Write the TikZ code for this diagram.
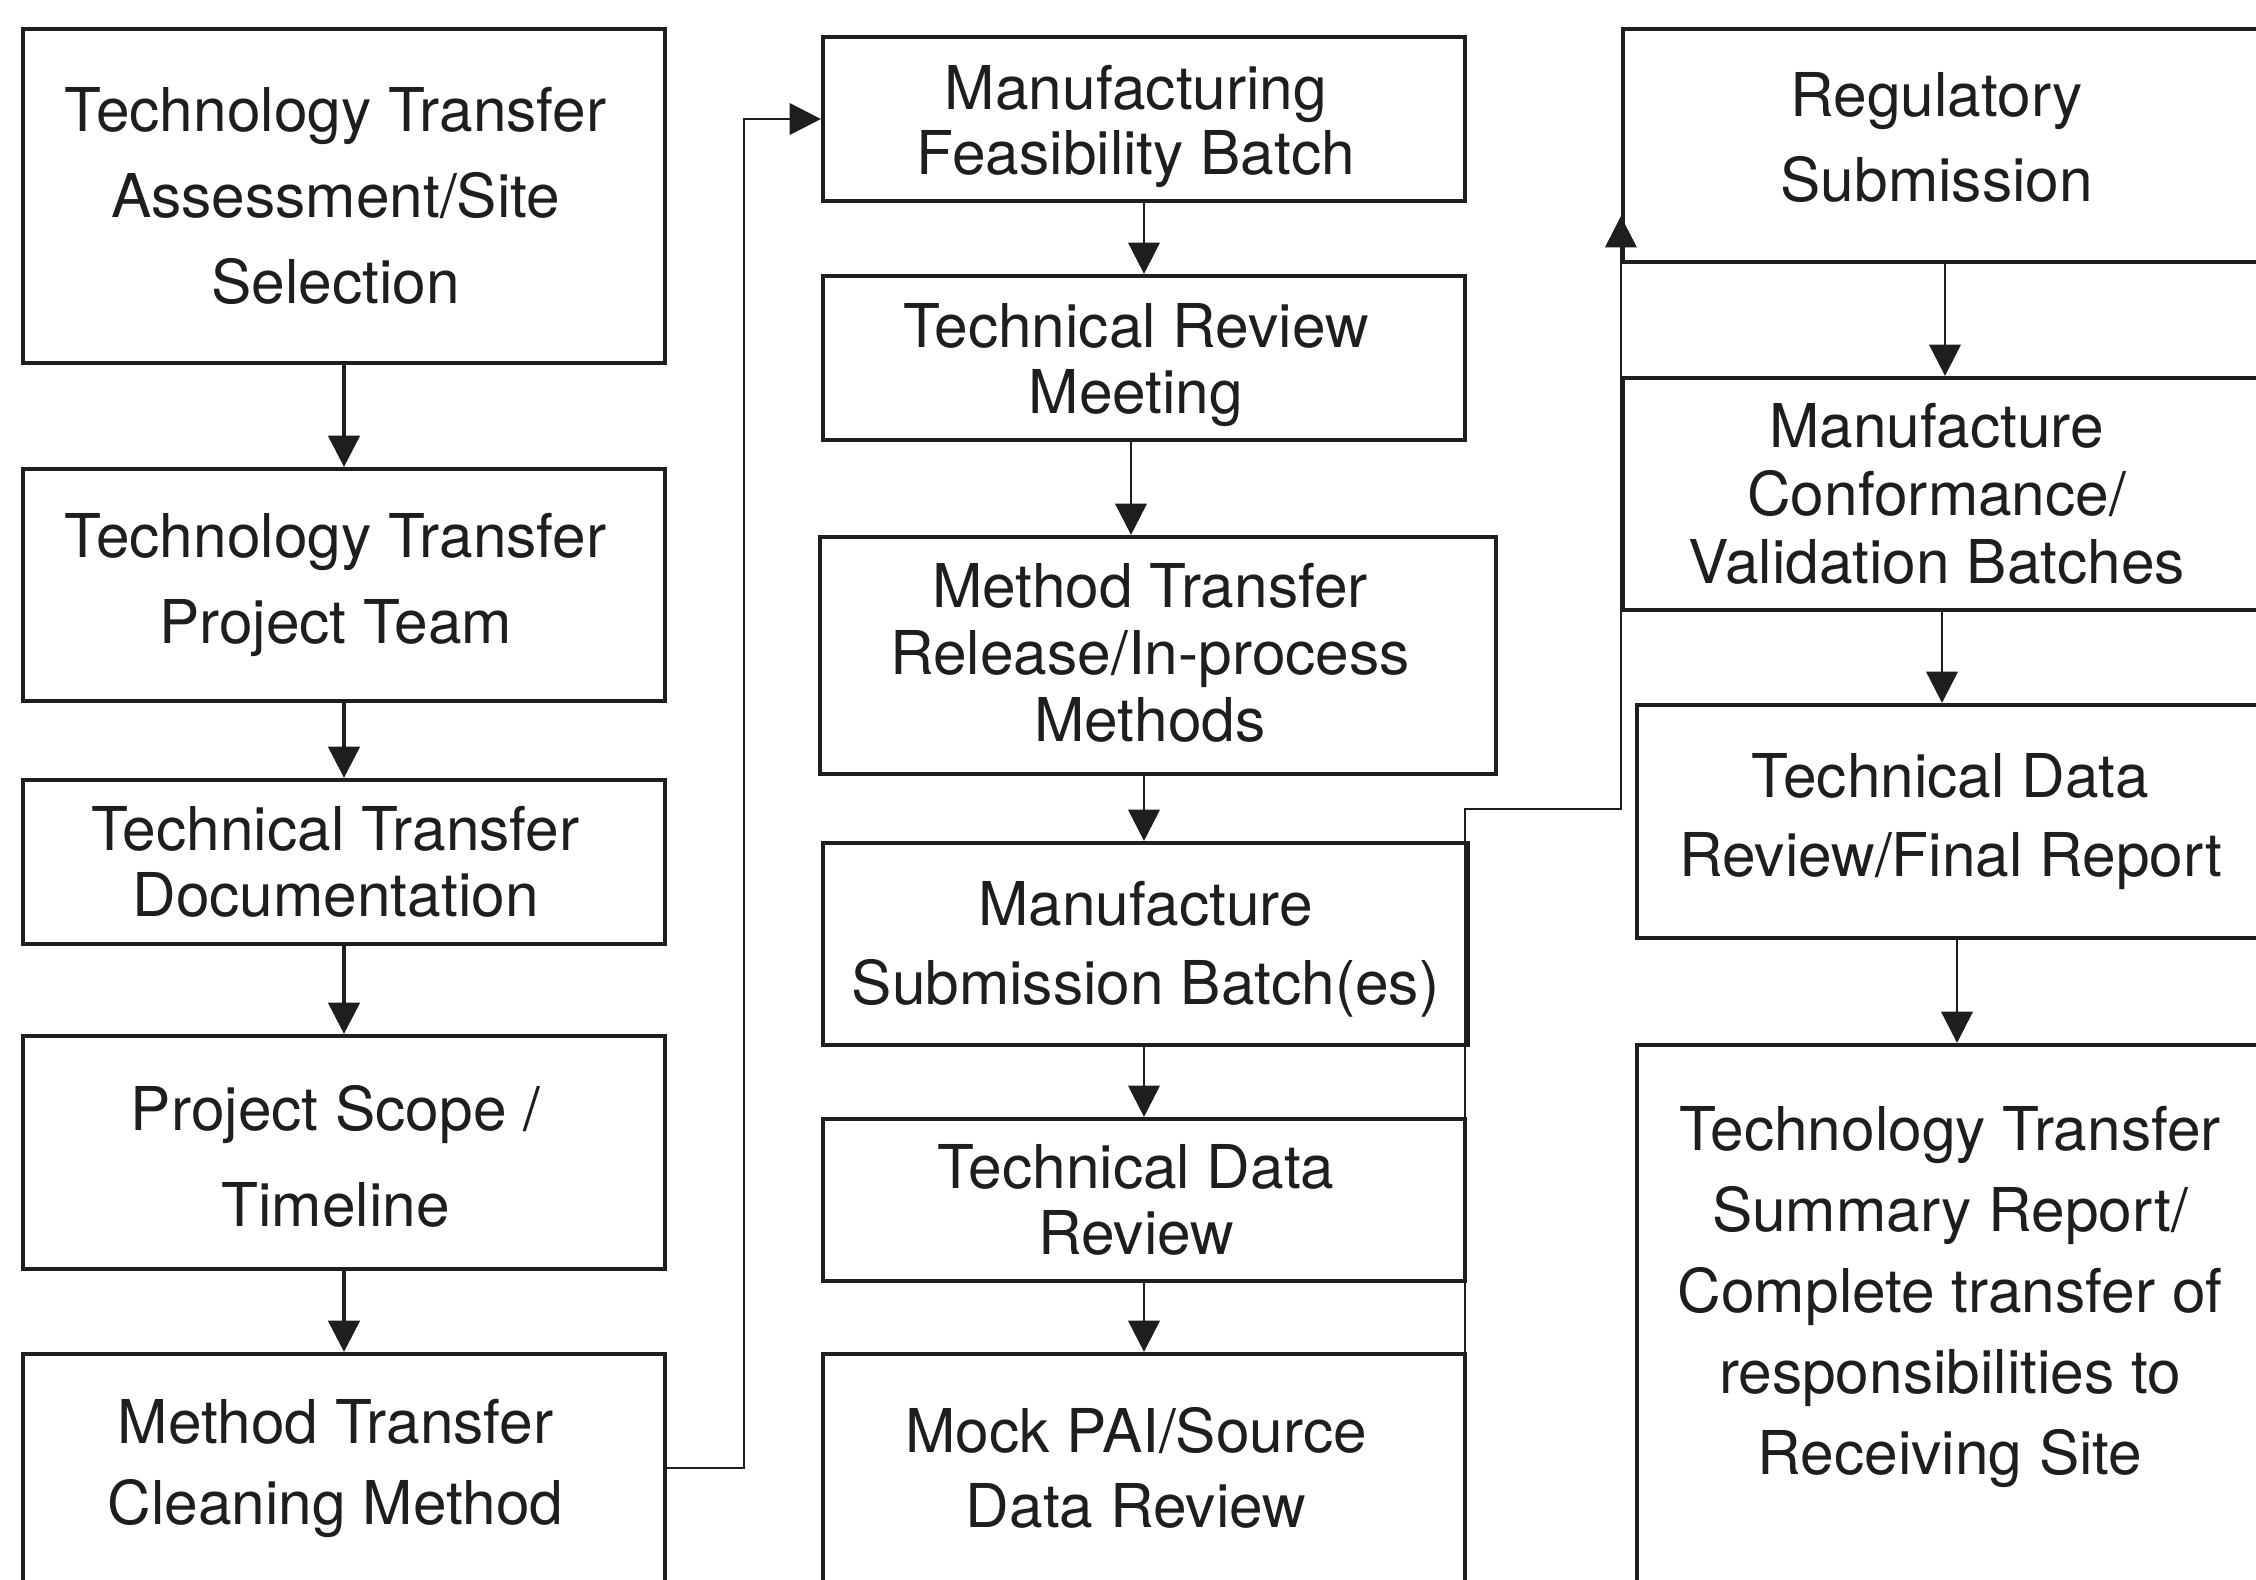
\documentclass[tikz,border=0pt]{standalone}
\usepackage{fontspec}
\setmainfont{TeX Gyre Heros}
\usetikzlibrary{arrows.meta,calc}
\definecolor{ink}{HTML}{1E1E1E}
\begin{document}
\begin{tikzpicture}[x=0.25pt,y=-0.25pt,
  box/.style={draw=ink, line width=1.05pt, inner sep=0pt},
  size/.style 2 args={minimum width=#1*0.25pt, minimum height=#2*0.25pt},
  boxtext/.style={inner sep=0pt, align=center, text=ink, anchor=center,
              font=\fontsize{15.1pt}{#1}\selectfont},
  link/.style={draw=ink, line width=0.7pt, -{Triangle[length=7.8pt,width=7.8pt]}},
  heavy/.style={line width=0.95pt}]

% page frame
\useasboundingbox (0,0) rectangle (2256,1579);
\fill[white] (0,0) rectangle (2256,1579);
\clip (0,0) rectangle (2256,1579);

% left column
\node[box, size={642}{334},
  label={[boxtext=21.5pt, xshift=-2.1pt]center:{Technology Transfer\\Assessment/Site\\Selection}}]
  (t1) at (344,196) {};
\node[box, size={642}{232},
  label={[boxtext=21.5pt, xshift=-2.1pt]center:{Technology Transfer\\Project Team}}]
  (t2) at (344,585) {};
\node[box, size={642}{164},
  label={[boxtext=16.5pt, xshift=-2.1pt]center:{Technical Transfer\\Documentation}}]
  (t3) at (344,862) {};
\node[box, size={642}{233},
  label={[boxtext=24pt, xshift=-2.1pt, yshift=-1pt]center:{Project Scope /\\Timeline}}]
  (t4) at (344,1152.5) {};
\node[box, size={642}{228},
  label={[boxtext=20.25pt, xshift=-2.1pt]center:{Method Transfer\\Cleaning Method}}]
  (t5) at (344,1468) {};

% middle column
\node[box, size={642}{164},
  label={[boxtext=16.25pt, xshift=-2pt, yshift=-1.8pt]center:{Manufacturing\\Feasibility Batch}}]
  (m1) at (1144,119) {};
\node[box, size={642}{164},
  label={[boxtext=16.5pt, xshift=-2pt, yshift=-1.8pt]center:{Technical Review\\Meeting}}]
  (m2) at (1144,358) {};
\node[box, size={676}{237},
  label={[boxtext=16.75pt, xshift=-2pt, yshift=0.6pt]center:{Method Transfer\\Release/In-process\\Methods}}]
  (m3) at (1158,655.5) {};
\node[box, size={645}{202},
  label={[boxtext=19.75pt, yshift=-1.4pt]center:{Manufacture\\Submission Batch(es)}}]
  (m4) at (1145.5,944) {};
\node[box, size={642}{162},
  label={[boxtext=16.5pt, xshift=-2pt]center:{Technical Data\\Review}}]
  (m5) at (1144,1200) {};
\node[box, size={642}{228},
  label={[boxtext=18.75pt, xshift=-2pt]center:{Mock PAI/Source\\Data Review}}]
  (m6) at (1144,1468) {};

% right column
\node[box, size={637}{233},
  label={[boxtext=21.25pt, xshift=-1.2pt, yshift=2.1pt]center:{Regulatory\\Submission}}]
  (r1) at (1941.5,145.5) {};
\node[box, size={637}{232},
  label={[boxtext=17pt, xshift=-1.2pt]center:{Manufacture\\Conformance/\\Validation Batches}}]
  (r2) at (1941.5,494) {};
\node[box, size={627}{233},
  label={[boxtext=19.75pt]center:{Technical Data\\Review/Final Report}}]
  (r3) at (1950.5,821.5) {};
\node[box, size={627}{595}] (r4) at (1950.5,1342.5) {};
\node[boxtext=20.25pt] (r4t) at (1950,1297)
  {Technology Transfer\\Summary Report/\\Complete transfer of\\responsibilities to\\Receiving Site};

% left column flow
\draw[link,heavy] (t1) -- (t2);
\draw[link,heavy] (t2) -- (t3);
\draw[link,heavy] (t3) -- (t4);
\draw[link,heavy] (t4) -- (t5);

% hand-over to the middle column
\draw[link] (t5.east) -- (744,0 |- t5.east) |- (m1.west);

% middle column flow
\draw[link] (m1) -- (m2);
\draw[link] (1131,0 |- m2.south) -- (1131,0 |- m3.north);
\draw[link] (1144,0 |- m3.south) -- (1144,0 |- m4.north);
\draw[link] (1144,0 |- m4.south) -- (1144,0 |- m5.north);
\draw[link] (1144,0 |- m5.south) -- (1144,0 |- m6.north);

% hand-over to the right column
\coordinate (feed) at (1465,1640);
\draw[link] (feed) -- (feed |- 0,809) -| ($(r1.south west)+(0,-48)$);

% right column flow
\draw[link] (1945,0 |- r1.south) -- (1945,0 |- r2.north);
\draw[link] (1942,0 |- r2.south) -- (1942,0 |- r3.north);
\draw[link] (1957,0 |- r3.south) -- (1957,0 |- r4.north);
\end{tikzpicture}
\end{document}
